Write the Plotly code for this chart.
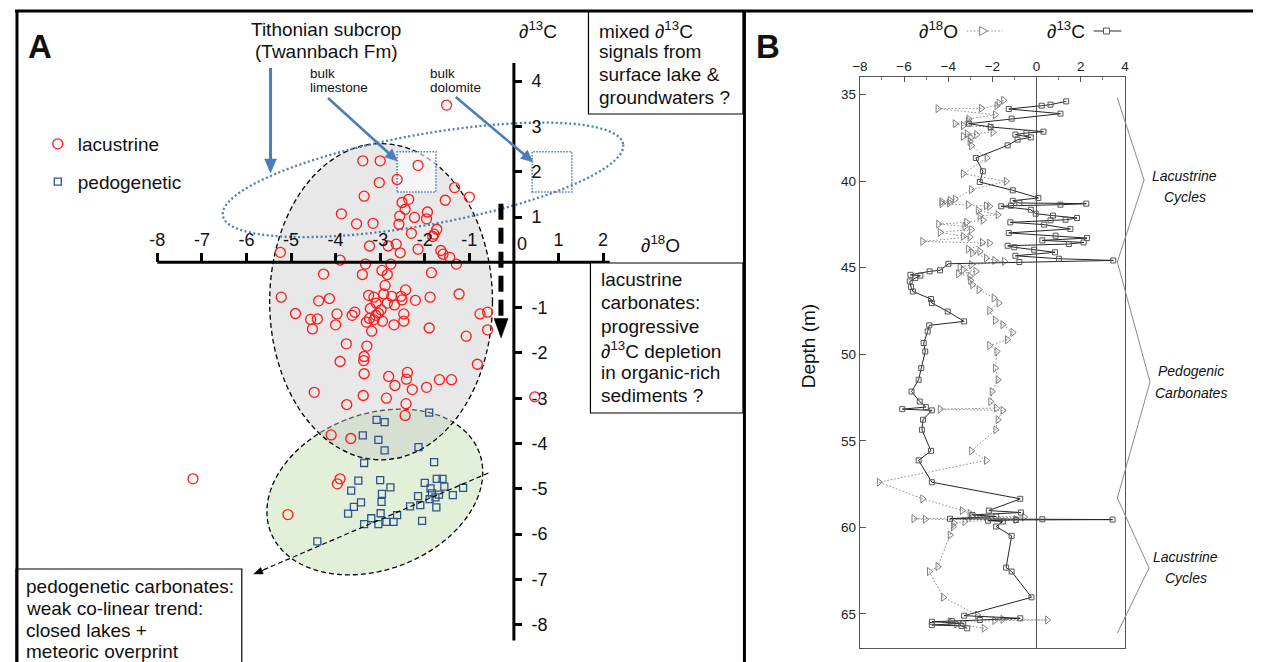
import numpy as np
import plotly.graph_objects as go

# The page body has an 8px margin, so the figure is placed at (8, 8) on the page.
OFF = 8
PW, PH = 1261, 662          # page (reference) size
W, H = PW - OFF, PH - OFF   # figure size
FONT = "Arial, 'Liberation Sans', sans-serif"


def PX(p):
    return (p - OFF) / W


def PY(p):
    return 1 - (p - OFF) / H


# ---------------- Panel A data (d18O, d13C) ----------------
lac_d18O = [
    -1.51, -3.39, -3.00, -2.15, -3.02, -2.62, -3.36, -1.33, -1.00, -1.54,
    -2.36, -2.51, -2.44, -3.87, -2.56, -2.23, -1.94, -1.96, -3.53, -3.16,
    -2.58, -1.73, -1.79, -1.82, -2.30, -3.24, -2.82, -2.64, -2.55, -2.15,
    -1.64, -1.59, -1.44, -1.29, -3.90, -3.33, -2.76, -5.24,
    -4.27, -3.40, -2.96, -2.84, -1.85, -2.89, -5.22, -4.38, -4.14, -3.26,
    -3.14, -2.92, -2.74, -2.53, -2.43, -2.51, -2.21, -1.88, -1.23, -3.09,
    -2.84, -2.68, -3.22, -2.98, -4.90, -4.56, -4.41, -3.97, -3.63, -3.57,
    -3.10, -3.04, -3.24, -3.14, -3.31, -2.95, -2.47, -2.47, -2.69, -4.52,
    -4.00, -3.19, -1.90, -0.76, -0.59, -0.59, -1.07, -3.76, -3.30, -3.36,
    -3.37, -3.90, -3.36, -0.82, -2.81, -2.39, -2.41, -2.67, -2.28, -1.96,
    -1.67, -1.40, -4.48, -3.38, -2.86, -3.75, -2.42, -2.44,
    -4.10, -3.66, -3.90, -3.96, -5.07, -7.20, 0.47,
]
lac_d13C = [
    3.47, 2.24, 2.24, 2.14, 1.76, 1.83, 1.46, 1.65, 1.44, 1.37,
    1.39, 1.32, 1.17, 1.07, 1.02, 0.99, 1.11, 0.96, 0.85, 0.86,
    0.84, 0.73, 0.62, 0.57, 0.64, 0.36, 0.36, 0.40, 0.21, 0.29,
    0.26, 0.18, 0.11, -0.04, 0.05, -0.04, -0.04, 0.22,
    -0.26, -0.27, -0.18, -0.27, -0.23, -0.51, -0.77, -0.85, -0.80, -0.73,
    -0.77, -0.70, -0.75, -0.75, -0.61, -0.83, -0.84, -0.77, -0.70, -0.90,
    -0.90, -0.94, -1.02, -1.05, -1.13, -1.26, -1.25, -1.14, -1.17, -1.10,
    -1.17, -1.12, -1.24, -1.27, -1.32, -1.30, -1.14, -1.30, -1.38, -1.47,
    -1.38, -1.52, -1.45, -1.14, -1.10, -1.49, -1.63, -1.80, -1.85, -2.08,
    -2.17, -2.19, -2.46, -2.25, -2.52, -2.43, -2.58, -2.72, -2.81, -2.76,
    -2.59, -2.59, -2.87, -2.94, -3.00, -3.14, -3.12, -3.38,
    -3.81, -3.89, -4.78, -4.89, -5.57, -4.78, -2.97,
]
ped_d18O = [
    -1.90, -3.08, -2.90, -3.39, -3.04, -2.90, -2.14, -3.36, -1.79, -3.49,
    -3.00, -3.65, -2.77, -2.96, -2.97, -3.43, -3.59, -3.72, -2.99, -3.20,
    -3.36, -3.04, -2.86, -2.70, -2.62, -2.33, -2.10, -2.15, -2.00, -1.87,
    -1.84, -1.89, -1.76, -1.68, -1.73, -1.60, -1.56, -1.37, -1.14, -1.74,
    -2.06, -4.41,
]
ped_d13C = [
    -3.32, -3.48, -3.53, -3.82, -3.92, -4.15, -4.08, -4.43, -4.41, -4.82,
    -4.81, -5.04, -4.97, -5.11, -5.29, -5.30, -5.40, -5.55, -5.54, -5.65,
    -5.78, -5.78, -5.73, -5.73, -5.58, -5.39, -5.36, -5.16, -4.87, -4.99,
    -5.10, -5.23, -5.19, -5.13, -4.78, -4.78, -4.95, -5.14, -4.98, -5.41,
    -5.71, -6.16,
]
xticks_A = [-8, -7, -6, -5, -4, -3, -2, -1, 1, 2]
yticks_A = [-8, -7, -6, -5, -4, -3, -2, -1, 1, 2, 3, 4]

# ---------------- Panel B data (depth in m, value in permil) ----------------
c13_depth = [
    35.39, 35.58, 35.64, 35.83, 36.10, 36.39, 36.68, 36.87, 37.14, 37.22,
    37.31, 37.47, 37.60, 37.93, 38.66, 39.43, 40.05, 40.53, 40.97, 41.13,
    41.26, 41.30, 41.36, 41.42, 41.45, 41.65, 41.88, 41.99, 42.13, 42.23,
    42.26, 42.38, 42.51, 42.76, 42.99, 43.15, 43.29, 43.42, 43.54, 43.63,
    43.73, 43.82, 43.96, 44.11, 44.31, 44.48, 44.58, 44.67, 44.77, 45.15,
    45.21, 45.41, 45.46, 45.60, 45.79, 46.12, 46.37, 46.81, 47.04, 47.53,
    48.10, 48.33, 48.68, 49.35, 49.84, 50.80, 51.47, 52.15, 52.73, 53.05,
    53.17, 53.24, 53.78, 54.36, 55.58, 56.13, 57.39, 58.35, 59.03, 59.14,
    59.28, 59.37, 59.50, 59.53, 59.55, 59.57, 59.61, 59.66, 59.95, 60.49,
    62.32, 62.55, 64.04, 65.10, 65.25, 65.35, 65.41, 65.45, 65.54, 65.64,
    65.69, 65.83,
]
c13_val = [
    1.34, 0.63, 0.23, -1.26, 1.08, -1.13, -3.07, -2.08, 0.31, -0.46,
    -0.96, -0.26, -0.86, -1.31, -2.75, -2.43, -2.57, -1.08, 0.08, -1.08,
    -0.78, 2.25, 1.08, -1.16, -1.60, -0.26, -0.04, 0.74, 1.83, 1.31,
    0.63, -1.19, 0.34, 1.53, -1.26, 0.86, 2.28, 0.26, 2.13, 1.46,
    -1.31, -1.01, -0.11, 0.83, -0.96, 1.01, 3.47, -0.78, -3.99, -4.37,
    -4.84, -5.71, -5.26, -5.49, -5.74, -5.68, -5.60, -4.78, -4.74, -4.02,
    -3.28, -4.86, -4.93, -5.11, -5.04, -5.22, -5.34, -5.66, -5.29, -5.01,
    -6.08, -4.74, -5.14, -5.19, -4.78, -5.34, -4.74, -0.74, -2.16, -0.71,
    -2.90, -1.83, -3.92, 0.26, 3.44, -0.93, -2.20, -1.53, -1.83, -1.13,
    -1.38, -1.13, -0.23, -3.28, -0.74, -2.57, -3.84, -4.74, -3.32, -4.74,
    -3.40, -3.14,
]
o18_depth = [
    35.33, 35.48, 35.64, 35.79, 35.81, 36.16, 36.41, 36.54, 36.68, 36.79,
    36.87, 37.18, 37.27, 37.31, 37.41, 37.50, 37.70, 37.95, 38.66, 39.57,
    40.01, 40.49, 41.03, 41.11, 41.18, 41.26, 41.30, 41.36, 41.42, 41.45,
    41.69, 41.94, 42.00, 42.26, 42.38, 42.48, 42.61, 42.80, 42.96, 43.19,
    43.23, 43.48, 43.54, 43.58, 43.92, 44.05, 44.15, 44.44, 44.58, 44.63,
    44.83, 44.96, 45.12, 45.21, 45.35, 45.50, 45.73, 45.98, 46.27, 46.75,
    47.04, 47.47, 48.04, 48.29, 48.74, 49.16, 49.49, 49.84, 50.80, 51.47,
    52.15, 52.73, 53.11, 53.17, 53.24, 53.78, 54.36, 55.58, 56.13, 57.39,
    58.35, 59.03, 59.19, 59.37, 59.40, 59.50, 59.53, 59.55, 59.66, 59.76,
    59.95, 60.44, 62.27, 62.55, 64.04, 65.06, 65.31, 65.35, 65.38, 65.45,
    65.58, 65.83,
]
o18_val = [
    -1.50, -1.71, -1.80, -2.50, -4.47, -1.87, -3.07, -3.10, -3.69, -3.32,
    -2.10, -1.98, -3.14, -2.72, -3.32, -2.99, -3.02, -2.95, -2.25, -3.32,
    -1.38, -2.95, -3.69, -3.92, -4.29, -3.95, -4.29, -3.10, -2.28, -2.13,
    -2.65, -1.75, -2.57, -2.43, -3.17, -4.44, -3.25, -2.95, -4.37, -3.32,
    -3.02, -5.16, -2.46, -2.13, -3.10, -2.57, -2.90, -2.28, -1.90, -1.46,
    -2.95, -3.47, -3.32, -2.75, -3.54, -3.02, -2.99, -2.90, -2.61, -1.93,
    -1.71, -2.13, -1.87, -1.53, -1.08, -1.33, -2.13, -1.80, -1.87, -1.75,
    -2.02, -2.08, -1.82, -4.37, -1.53, -1.75, -1.85, -2.95, -2.28, -7.13,
    -5.16, -3.37, -3.02, -2.95, -0.56, -5.56, -5.04, -0.93, -3.25, -3.74,
    -3.77, -3.92, -4.47, -4.86, -4.22, -2.68, -1.53, 0.49, -1.90, -3.92,
    -3.62, -2.38,
]
xticks_B = [-8, -6, -4, -2, 0, 2, 4]
yticks_B = [35, 40, 45, 50, 55, 60, 65]

# ---------------- geometry of panel A axes (pixel calibration) ----------------
X0PX, XS = 510.7, 45.0     # page pixel of d18O = 0, px per unit
Y0PY, YS = 262.3, 45.3     # page pixel of d13C = 0, px per unit
A_left, A_right, A_top, A_bot = 8, 743, 11, 662
xrA = [(A_left - X0PX) / XS, (A_right - X0PX) / XS]
yrA = [(Y0PY - A_bot) / YS, (Y0PY - A_top) / YS]


def ellipse_path(cx, cy, a, b, ang, n=160):
    t = np.linspace(0, 2 * np.pi, n)
    th = np.radians(ang)
    xs = cx + a * np.cos(t) * np.cos(th) - b * np.sin(t) * np.sin(th)
    ys = cy + a * np.cos(t) * np.sin(th) + b * np.sin(t) * np.cos(th)
    return "M " + " L ".join(f"{x:.4f},{y:.4f}" for x, y in zip(xs, ys)) + " Z"


def ppath(pts, close=True):
    s = "M " + " L ".join(f"{PX(a):.5f},{PY(b):.5f}" for a, b in pts)
    return s + (" Z" if close else "")


fig = go.Figure()

fig.add_trace(go.Scatter(
    x=lac_d18O, y=lac_d13C, mode="markers", name="lacustrine",
    marker=dict(symbol="circle-open", size=10, color="#ff1a1a", line=dict(width=1.3)),
    xaxis="x", yaxis="y", legendgroup="lac", cliponaxis=False))
fig.add_trace(go.Scatter(
    x=ped_d18O, y=ped_d13C, mode="markers", name="pedogenetic",
    marker=dict(symbol="square-open", size=7, color="#2f528f", line=dict(width=1.3)),
    xaxis="x", yaxis="y", legendgroup="ped", cliponaxis=False))

o_ord = np.argsort(o18_depth, kind="stable")
c_ord = np.argsort(c13_depth, kind="stable")
O_LINE = dict(color="#8a8a8a", width=1, dash="1.5px,2px")
O_MARK = dict(symbol="triangle-right-open", size=7, color="#808080", line=dict(width=1))
C_LINE = dict(color="#262626", width=1)
C_MARK = dict(symbol="square-open", size=5, color="#555555", line=dict(width=1))
fig.add_trace(go.Scatter(
    x=np.array(o18_val)[o_ord], y=np.array(o18_depth)[o_ord], mode="lines+markers",
    name="∂18O", line=O_LINE, marker=O_MARK, xaxis="x2", yaxis="y2", showlegend=False))
fig.add_trace(go.Scatter(
    x=np.array(c13_val)[c_ord], y=np.array(c13_depth)[c_ord], mode="lines+markers",
    name="∂13C", line=C_LINE, marker=C_MARK, xaxis="x2", yaxis="y2", showlegend=False))

shapes = []
# green (pedogenetic) ellipse
shapes.append(dict(type="path", xref="x", yref="y", layer="below",
                   path=ellipse_path(-3.12, -5.07, 2.5, 1.72, 20),
                   fillcolor="#e2f0d9", line=dict(color="black", width=1.3, dash="5px,3px")))
# grey (lacustrine) ellipse
shapes.append(dict(type="circle", xref="x", yref="y", layer="below",
                   x0=-5.48, x1=-0.48, y0=-4.36, y1=2.62,
                   fillcolor="rgba(200,200,200,0.42)", line=dict(color="black", width=1.3, dash="5px,3px")))
# bulk limestone / dolomite boxes
shapes.append(dict(type="rect", xref="x", yref="y", layer="below",
                   x0=-2.62, x1=-1.75, y0=1.55, y1=2.44, fillcolor="rgba(255,255,255,0.6)",
                   line=dict(color="#4a7ebb", width=1.5, dash="1.5px,1.5px")))
shapes.append(dict(type="rect", xref="x", yref="y", layer="below",
                   x0=0.41, x1=1.30, y0=1.55, y1=2.44, fillcolor="rgba(0,0,0,0)",
                   line=dict(color="#4a7ebb", width=1.5, dash="1.5px,1.5px")))
# blue dotted Tithonian ellipse
shapes.append(dict(type="path", xref="x", yref="y", layer="below",
                   path=ellipse_path(-2.04, 1.82, 4.56, 1.0, 10),
                   fillcolor="rgba(0,0,0,0)", line=dict(color="#4a7ebb", width=2.3, dash="2px,2.5px")))
# axes lines through origin
shapes.append(dict(type="line", xref="x", yref="y", x0=-8, x1=2.15, y0=0, y1=0,
                   line=dict(color="black", width=3)))
shapes.append(dict(type="line", xref="x", yref="y", x0=0, x1=0, y0=4.4, y1=-8.35,
                   line=dict(color="black", width=3)))
# thick dashed depletion arrow
shapes.append(dict(type="line", xref="x", yref="y", x0=-0.29, x1=-0.29, y0=1.29, y1=-1.24,
                   line=dict(color="black", width=5, dash="16px,8px")))
shapes.append(dict(type="path", xref="x", yref="y",
                   path="M -0.445,-1.24 L -0.13,-1.24 L -0.287,-1.671 Z",
                   fillcolor="black", line=dict(color="black", width=0.5)))
# dashed co-linear trend line
shapes.append(dict(type="line", xref="x", yref="y", x0=-0.57, y0=-4.65, x1=-5.74, y1=-6.84,
                   line=dict(color="black", width=1.2, dash="5px,3px")))


def arrow(tail, tip, width, color, hl, hw):
    tx, ty = tail
    px_, py_ = tip
    dx, dy = px_ - tx, py_ - ty
    L = (dx * dx + dy * dy) ** 0.5
    ux, uy = dx / L, dy / L
    bx, by = px_ - ux * hl, py_ - uy * hl
    shapes.append(dict(type="line", xref="paper", yref="paper",
                       x0=PX(tx), y0=PY(ty), x1=PX(bx + ux * 2), y1=PY(by + uy * 2),
                       line=dict(color=color, width=width)))
    pts = [(px_, py_), (bx - uy * hw / 2, by + ux * hw / 2), (bx + uy * hw / 2, by - ux * hw / 2)]
    shapes.append(dict(type="path", xref="paper", yref="paper", path=ppath(pts),
                       fillcolor=color, line=dict(color=color, width=0.5)))


BLUE = "#4a7ebb"
arrow((265, 68), (265, 173), 3, BLUE, 14, 12)
arrow((323, 98), (393, 161), 2.6, BLUE, 12, 11)
arrow((452, 97), (530, 162), 2.6, BLUE, 12, 11)
# head of the dashed trend arrow
arrow((258, 570), (248, 574), 1.2, "black", 9, 7)

# text boxes (page pixels)
for (x0, x1, y0, y1) in [(586, 742, 11, 114), (588, 742, 263, 413), (8, 236, 569, 664)]:
    shapes.append(dict(type="rect", xref="paper", yref="paper",
                       x0=PX(x0), x1=PX(x1), y0=PY(y1), y1=PY(y0),
                       fillcolor="white", line=dict(color="black", width=1.2)))

# frame lines
shapes.append(dict(type="line", xref="paper", yref="paper", x0=PX(7), x1=PX(1262), y0=PY(11), y1=PY(11),
                   line=dict(color="black", width=3)))
shapes.append(dict(type="line", xref="paper", yref="paper", x0=PX(9), x1=PX(9), y0=PY(11), y1=PY(663),
                   line=dict(color="black", width=3)))
shapes.append(dict(type="line", xref="paper", yref="paper", x0=PX(743.5), x1=PX(743.5), y0=PY(11), y1=PY(663),
                   line=dict(color="black", width=3)))

# brackets in panel B
br = [(1120, 98), (1147, 180), (1120, 262), (1153, 382), (1120, 498), (1152, 568), (1120, 633)]
shapes.append(dict(type="path", xref="paper", yref="paper", path=ppath(br, close=False),
                   line=dict(color="#8a8a8a", width=1)))

# legend keys of panel B
shapes.append(dict(type="line", xref="paper", yref="paper", x0=PX(968), x1=PX(1004), y0=PY(31), y1=PY(31),
                   line=dict(color="#8a8a8a", width=1, dash="1.5px,2px")))
shapes.append(dict(type="path", xref="paper", yref="paper",
                   path=ppath([(981, 26.5), (981, 35.5), (989, 31)]),
                   fillcolor="white", line=dict(color="#808080", width=1)))
shapes.append(dict(type="line", xref="paper", yref="paper", x0=PX(1096), x1=PX(1124), y0=PY(31), y1=PY(31),
                   line=dict(color="#262626", width=1)))
shapes.append(dict(type="rect", xref="paper", yref="paper",
                   x0=PX(1106), x1=PX(1112), y0=PY(34), y1=PY(28),
                   fillcolor="white", line=dict(color="#555555", width=1)))

ann = []


def txt(x, y, s, size=19, xanchor="left", **kw):
    d = dict(x=PX(x), y=PY(y), xref="paper", yref="paper", text=s, showarrow=False,
             xanchor=xanchor, yanchor="middle", font=dict(family=FONT, size=size, color="#111111"))
    d.update(kw)
    ann.append(d)


def lines(x, ys, strs, size=19, xanchor="left"):
    for y, s in zip(ys, strs):
        txt(x, y, s, size=size, xanchor=xanchor)


txt(18, 47, "<b>A</b>", size=33)
txt(753, 47, "<b>B</b>", size=33)
lines(321, [30, 52], ["Tithonian subcrop", "(Twannbach Fm)"], xanchor="center")
lines(303, [73, 87], ["bulk", "limestone"], size=13.5)
lines(424, [73, 87], ["bulk", "dolomite"], size=13.5)
txt(535, 30, "∂<sup>13</sup>C", xanchor="center")
txt(659, 244, "∂<sup>18</sup>O", xanchor="center")
txt(519, 244, "0", size=18, xanchor="center")
lines(595, [29.5, 52, 74.5, 97], ["mixed ∂<sup>13</sup>C", "signals from", "surface lake &", "groundwaters ?"])
lines(597, [279.5, 303, 326, 349.5, 372.5, 395.5],
      ["lacustrine", "carbonates:", "progressive", "∂<sup>13</sup>C depletion", "in organic-rich", "sediments ?"])
lines(16.5, [586.5, 608.5, 630, 651.5],
      ["pedogenetic carbonates:", "weak co-linear trend:", "closed lakes +", "meteoric overprint"])

# panel B texts
txt(939, 30, "∂<sup>18</sup>O", xanchor="center")
txt(1068, 30, "∂<sup>13</sup>C", xanchor="center")
txt(808, 346, "Depth (m)", textangle=-90, xanchor="center")
lines(1188, [176, 197], ["<i>Lacustrine</i>", "<i>Cycles</i>"], size=14, xanchor="center")
lines(1194, [371, 393], ["<i>Pedogenic</i>", "<i>Carbonates</i>"], size=14, xanchor="center")
lines(1189, [557, 578], ["<i>Lacustrine</i>", "<i>Cycles</i>"], size=14, xanchor="center")

fig.update_layout(
    width=W, height=H, margin=dict(l=0, r=0, t=0, b=0),
    paper_bgcolor="white", plot_bgcolor="rgba(0,0,0,0)",
    font=dict(family=FONT, color="#111111"),
    shapes=shapes, annotations=ann,
    xaxis=dict(domain=[PX(A_left), PX(A_right)], range=xrA, anchor="free", position=PY(Y0PY),
               side="top", showgrid=False, zeroline=False, showline=False,
               tickmode="array", tickvals=xticks_A, ticktext=[str(v) for v in xticks_A],
               ticks="outside", ticklen=9, tickwidth=3, tickcolor="black",
               tickfont=dict(size=18, color="#111111")),
    yaxis=dict(domain=[0, PY(A_top)], range=[(Y0PY - (OFF + H)) / YS, yrA[1]], anchor="free",
               position=PX(X0PX),
               side="right", showgrid=False, zeroline=False, showline=False,
               tickmode="array", tickvals=yticks_A, ticktext=[str(v) for v in yticks_A],
               ticks="outside", ticklen=7, tickwidth=3, tickcolor="black", ticklabelstandoff=6,
               tickfont=dict(size=18, color="#111111")),
    xaxis2=dict(domain=[PX(860), PX(1127.7)], range=[-8, 4], anchor="y2", side="top",
                showgrid=False, zeroline=True, zerolinecolor="#555555", zerolinewidth=1,
                showline=True, mirror=True, linecolor="#555555", linewidth=1,
                tickmode="array", tickvals=xticks_B, ticks="inside", ticklen=5, tickcolor="#555555",
                minor=dict(dtick=1, ticks="inside", ticklen=3, tickcolor="#777777"),
                tickfont=dict(size=13.5, color="#222222")),
    yaxis2=dict(domain=[PY(647.7), PY(77.3)], range=[66.95, 34.0], anchor="x2",
                showgrid=False, zeroline=False,
                showline=True, mirror=True, linecolor="#555555", linewidth=1,
                tickmode="array", tickvals=yticks_B, ticks="inside", ticklen=6, tickcolor="#555555",
                tickfont=dict(size=13.5, color="#222222")),
    legend=dict(x=PX(30), y=PY(125), xanchor="left", yanchor="top", orientation="v",
                font=dict(family=FONT, size=19, color="#111111"), bgcolor="rgba(0,0,0,0)",
                tracegroupgap=10, itemwidth=30),
)

fig.write_html("out.html")
